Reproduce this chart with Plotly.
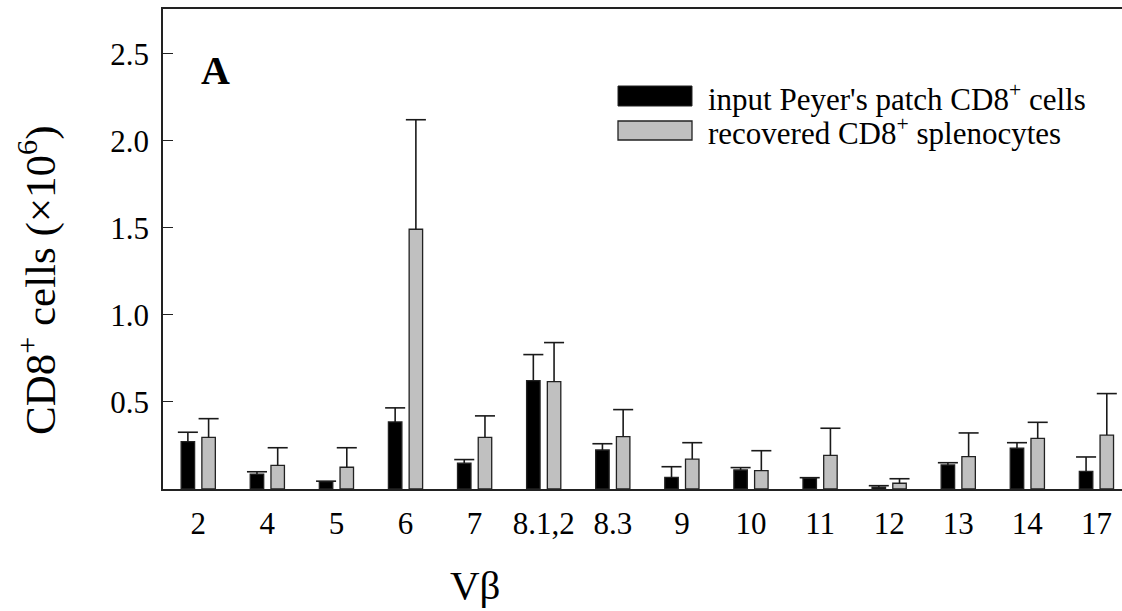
import plotly.graph_objects as go

categories = ["2", "4", "5", "6", "7", "8.1,2", "8.3", "9", "10", "11", "12", "13", "14", "17"]
input_vals = [0.272, 0.086, 0.042, 0.385, 0.148, 0.623, 0.224, 0.067, 0.109, 0.061, 0.010, 0.138, 0.234, 0.101]
input_err = [0.054, 0.013, 0.003, 0.081, 0.021, 0.149, 0.036, 0.061, 0.014, 0.004, 0.009, 0.013, 0.032, 0.083]
recovered_vals = [0.297, 0.136, 0.125, 1.492, 0.297, 0.617, 0.301, 0.172, 0.105, 0.193, 0.033, 0.186, 0.291, 0.310]
recovered_err = [0.107, 0.101, 0.112, 0.629, 0.123, 0.224, 0.155, 0.094, 0.115, 0.156, 0.026, 0.136, 0.092, 0.238]
y_ticks = [0.5, 1.0, 1.5, 2.0, 2.5]
series_names = ["input Peyer's patch CD8<sup>+</sup> cells", "recovered CD8<sup>+</sup> splenocytes"]

W, H = 1122, 611
ML, MR, MT, MB = 163, 0, 9, 122
FONT = "Liberation Serif, Times New Roman, serif"
OFF = 0.15
BW = 0.195
CAP = 0.145


def px(xp):
    return (xp - ML) / (W - ML - MR)


def py(yp):
    return (H - MB - yp) / (H - MB - MT)


idx = list(range(len(categories)))
fig = go.Figure()

for vals, errs, fill, sign, name in [
    (input_vals, input_err, "#000000", -1, series_names[0]),
    (recovered_vals, recovered_err, "#c0c0c0", 1, series_names[1]),
]:
    xs = [i + sign * OFF for i in idx]
    fig.add_trace(go.Bar(
        x=xs, y=vals, width=BW, name=name, showlegend=False,
        marker=dict(color=fill, line=dict(color="#222222", width=1.3)),
    ))
    ex, ey = [], []
    for x, v, e in zip(xs, vals, errs):
        ex += [x, x, None, x - CAP, x + CAP, None]
        ey += [v, v + e, None, v + e, v + e, None]
    fig.add_trace(go.Scatter(
        x=ex, y=ey, mode="lines", showlegend=False, hoverinfo="skip",
        line=dict(color="#1a1a1a", width=1.6),
    ))

# legend drawn manually
shapes = [
    dict(type="rect", xref="paper", yref="paper", x0=px(618), x1=px(692), y0=py(106), y1=py(86),
         fillcolor="#000000", line=dict(color="#222222", width=1)),
    dict(type="rect", xref="paper", yref="paper", x0=px(618), x1=px(692), y0=py(140), y1=py(121),
         fillcolor="#c0c0c0", line=dict(color="#222222", width=1.3)),
]
annotations = [
    dict(text=series_names[0], xref="paper", yref="paper", x=px(706), y=py(97), xanchor="left", yanchor="middle",
         showarrow=False, font=dict(family=FONT, size=31, color="black")),
    dict(text=series_names[1], xref="paper", yref="paper", x=px(706), y=py(131), xanchor="left", yanchor="middle",
         showarrow=False, font=dict(family=FONT, size=31, color="black")),
    dict(text="<b>A</b>", xref="paper", yref="paper", x=px(215), y=py(70), xanchor="center", yanchor="middle",
         showarrow=False, font=dict(family=FONT, size=40, color="black")),
    dict(text="CD8<sup>+</sup> cells (×10<sup>6</sup>)", xref="paper", yref="paper", x=px(37), y=py(281),
         xanchor="center", yanchor="middle", textangle=-90, showarrow=False,
         font=dict(family=FONT, size=43, color="black")),
    dict(text="Vβ", xref="paper", yref="paper", x=px(475), y=py(585), xanchor="center", yanchor="middle",
         showarrow=False, font=dict(family=FONT, size=41, color="black")),
]

fig.update_layout(
    width=W, height=H,
    margin=dict(l=ML, r=MR, t=MT, b=MB, pad=0),
    paper_bgcolor="white", plot_bgcolor="white",
    barmode="overlay",
    showlegend=False,
    shapes=shapes, annotations=annotations,
    xaxis=dict(
        range=[-0.51, 13.37], tickmode="array", tickvals=idx, ticktext=categories,
        showgrid=False, zeroline=False, showline=True, mirror=True, linecolor="#222222", linewidth=1.5,
        ticks="", tickfont=dict(family=FONT, size=31, color="black"), ticklabelstandoff=6,
    ),
    yaxis=dict(
        range=[0, 2.757], tickmode="array", tickvals=y_ticks, ticktext=[f"{t:.1f}" for t in y_ticks],
        showgrid=False, zeroline=False, showline=True, mirror=False, linecolor="#222222", linewidth=1.5,
        ticks="inside", ticklen=10, tickwidth=1.3, tickcolor="#222222",
        tickfont=dict(family=FONT, size=31, color="black"), ticklabelstandoff=6,
    ),
)

fig.write_html("out.html", post_script="document.body.style.margin='0';",
               config={"displayModeBar": False})
